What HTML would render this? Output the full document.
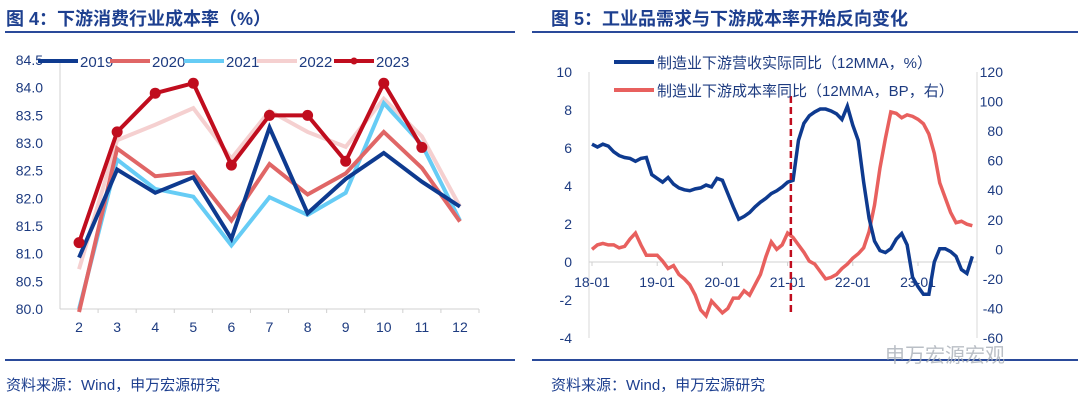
<!DOCTYPE html>
<html><head><meta charset="utf-8"><style>
html,body{margin:0;padding:0;background:#fff;width:1080px;height:402px;overflow:hidden}
svg{display:block;font-family:"Liberation Sans","Noto Sans CJK SC",sans-serif}
</style></head><body>
<svg id="s" width="1080" height="402" viewBox="0 0 1080 402">
<text x="6" y="25" font-size="18" font-weight="bold" fill="#1d3f8f">图 4：下游消费行业成本率（%）</text>
<text x="551" y="25" font-size="18" font-weight="bold" fill="#1d3f8f">图 5：工业品需求与下游成本率开始反向变化</text>
<rect x="5" y="31" width="510" height="2" fill="#2a4a9a"/>
<rect x="532" y="31" width="546" height="2" fill="#2a4a9a"/>
<rect x="5" y="359" width="510" height="2" fill="#2a4a9a"/>
<rect x="532" y="359" width="546" height="2" fill="#2a4a9a"/>
<text x="6" y="390" font-size="15" fill="#1d3f8f">资料来源：Wind，申万宏源研究</text>
<text x="551" y="390" font-size="15" fill="#1d3f8f">资料来源：Wind，申万宏源研究</text>
<text x="885" y="362" font-size="20" fill="#aab0b8" opacity="0.8">申万宏源宏观</text>
<g id="L"></g><g id="R"></g>
</svg>
<script>
const NS="http://www.w3.org/2000/svg";
const leftCats=[2,3,4,5,6,7,8,9,10,11,12];
const leftYTicks=[80.0,80.5,81.0,81.5,82.0,82.5,83.0,83.5,84.0,84.5];
const s2019=[80.93,82.52,82.1,82.38,81.27,83.28,81.73,82.35,82.82,82.3,81.85];
const s2020=[79.8,82.9,82.4,82.47,81.6,82.62,82.07,82.45,83.2,82.55,81.58];
const s2021=[80.0,82.7,82.17,82.03,81.15,82.02,81.7,82.1,83.72,82.97,81.6];
const s2022=[80.72,83.05,83.33,83.63,82.72,83.58,83.2,82.93,83.8,83.12,81.85];
const s2023=[81.2,83.2,83.9,84.08,82.6,83.5,83.5,82.67,84.08,82.92,null];
const rightXLabels=["18-01","19-01","20-01","21-01","22-01","23-01"];
const rightLeftTicks=[-4,-2,0,2,4,6,8,10];
const rightRightTicks=[-60,-40,-20,0,20,40,60,80,100,120];
const revenueYoY=[6.2,6.05,6.2,6.1,5.8,5.6,5.5,5.45,5.3,5.45,5.5,4.6,4.4,4.2,4.45,4.1,3.9,3.8,3.75,3.85,3.9,4.05,3.95,4.4,4.3,3.6,2.9,2.25,2.4,2.6,2.9,3.15,3.35,3.6,3.75,3.95,4.2,4.3,6.4,7.3,7.7,7.9,8.05,8.05,7.95,7.8,7.5,8.2,7.2,6.4,4.2,2.3,1.1,0.6,0.5,0.7,1.2,1.5,0.9,-0.8,-1.3,-1.7,-1.7,0,0.7,0.7,0.55,0.3,-0.4,-0.6,0.3];
const costRateYoY=[0,3,4,3,3,1,2,7,11,3,-4,-4,-4,-8,-13,-11,-17,-20,-24,-31,-41,-45,-35,-39,-43,-40,-33,-33,-28,-31,-24,-17,-5,5,0,3,11,8,3,-2,-8,-10,-15,-20,-19,-17,-13,-10,-6,-3,1,12,30,55,75,93,92,89,91,90,88,85,78,65,45,35,25,18,19,17,16];
const dashedMonth=36.6;

function el(p,t,a,txt){const e=document.createElementNS(NS,t);for(const k in a)e.setAttribute(k,a[k]);if(txt!==undefined)e.textContent=txt;p.appendChild(e);return e;}
const TC="#1d3b80";
// LEFT
const L=document.getElementById('L');
const lx0=60,lx1=479,ly=v=>309-(v-80)*(249/4.5),band=(lx1-lx0)/leftCats.length,lx=i=>lx0+band*(i+0.5);
let a=el(L,'line',{x1:lx0,y1:60,x2:lx0,y2:309,stroke:'#d0d0d0'});

a=el(L,'line',{x1:lx0,y1:309,x2:lx1,y2:309,stroke:'#d0d0d0'});

leftYTicks.forEach(v=>{const t=el(L,'text',{x:43,y:ly(v)+5,'font-size':14,fill:TC,'text-anchor':'end'},v.toFixed(1));
});
leftCats.forEach((c,i)=>{el(L,'line',{x1:lx0+band*(i+1),y1:309,x2:lx0+band*(i+1),y2:313,stroke:'#d0d0d0'});
const t=el(L,'text',{x:lx(i),y:332,'font-size':14,fill:TC,'text-anchor':'middle'},c);
});
const series=[[s2019,'#0e3a8f','2019'],[s2020,'#e06666','2020'],[s2021,'#66ccf5','2021'],[s2022,'#f5d0d0','2022'],[s2023,'#c00d1e','2023']];
const order=[3,2,1,0,4];
order.forEach(k=>{const [d,c,n]=series[k];const pts=d.map((v,i)=>v==null?null:[lx(i),Math.min(ly(v),312)]).filter(p=>p);
const pl=el(L,'polyline',{points:pts.map(p=>p.join(',')).join(' '),fill:'none',stroke:c,'stroke-width':4,'stroke-linejoin':'miter'});

if(n==='2023')pts.forEach(p=>{const m=el(L,'circle',{cx:p[0],cy:p[1],r:5.5,fill:c});});});
const legX=[50,122,196,269,346];
series.forEach(([d,c,n],i)=>{const g=el(L,'g',{});
el(g,'line',{x1:legX[i]-12,y1:61,x2:legX[i]+28,y2:61,stroke:c,'stroke-width':4});
if(n==='2023')el(g,'circle',{cx:legX[i]+8,cy:61,r:3.5,fill:c});
el(g,'text',{x:legX[i]+30,y:67,'font-size':15,fill:TC},n);});
// RIGHT
const R=document.getElementById('R');
const rx0=589,rx1=977,rx=m=>592+m*(326/60),ryl=v=>262-v*19,ryr=v=>72+(120-v)*(266/180);
a=el(R,'line',{x1:rx0,y1:72,x2:rx0,y2:338,stroke:'#d8d8d8'});
a=el(R,'line',{x1:rx1,y1:72,x2:rx1,y2:338,stroke:'#d8d8d8'});
a=el(R,'line',{x1:rx0,y1:262,x2:rx1,y2:262,stroke:'#d0d0d0'});
rightLeftTicks.forEach(v=>{const t=el(R,'text',{x:572,y:ryl(v)+5,'font-size':14,fill:TC,'text-anchor':'end'},v);});
rightRightTicks.forEach(v=>{const t=el(R,'text',{x:1003,y:ryr(v)+5,'font-size':14,fill:TC,'text-anchor':'end'},v);});
rightXLabels.forEach((l,i)=>{const x=rx(i*12);el(R,'line',{x1:x,y1:262,x2:x,y2:266,stroke:'#d0d0d0'});
const t=el(R,'text',{x:x,y:287,'font-size':14,fill:TC,'text-anchor':'middle'},l);});
a=el(R,'polyline',{points:costRateYoY.map((v,i)=>rx(i)+','+ryr(v)).join(' '),fill:'none',stroke:'#e8605e','stroke-width':3.5});

a=el(R,'polyline',{points:revenueYoY.map((v,i)=>rx(i)+','+ryl(v)).join(' '),fill:'none',stroke:'#0e3a8f','stroke-width':3.5});

a=el(R,'line',{x1:rx(dashedMonth),y1:96,x2:rx(dashedMonth),y2:315,stroke:'#c00d1e','stroke-width':2.5,'stroke-dasharray':'7,4'});

[['制造业下游营收实际同比（12MMA，%）','#0e3a8f',62],['制造业下游成本率同比（12MMA，BP，右）','#e8605e',90]].forEach(([n,c,y],i)=>{
const g=el(R,'g',{});
el(g,'line',{x1:614,y1:y,x2:654,y2:y,stroke:c,'stroke-width':4});
el(g,'text',{x:657,y:y+6,'font-size':15,fill:TC},n);});
</script>
</body></html>
